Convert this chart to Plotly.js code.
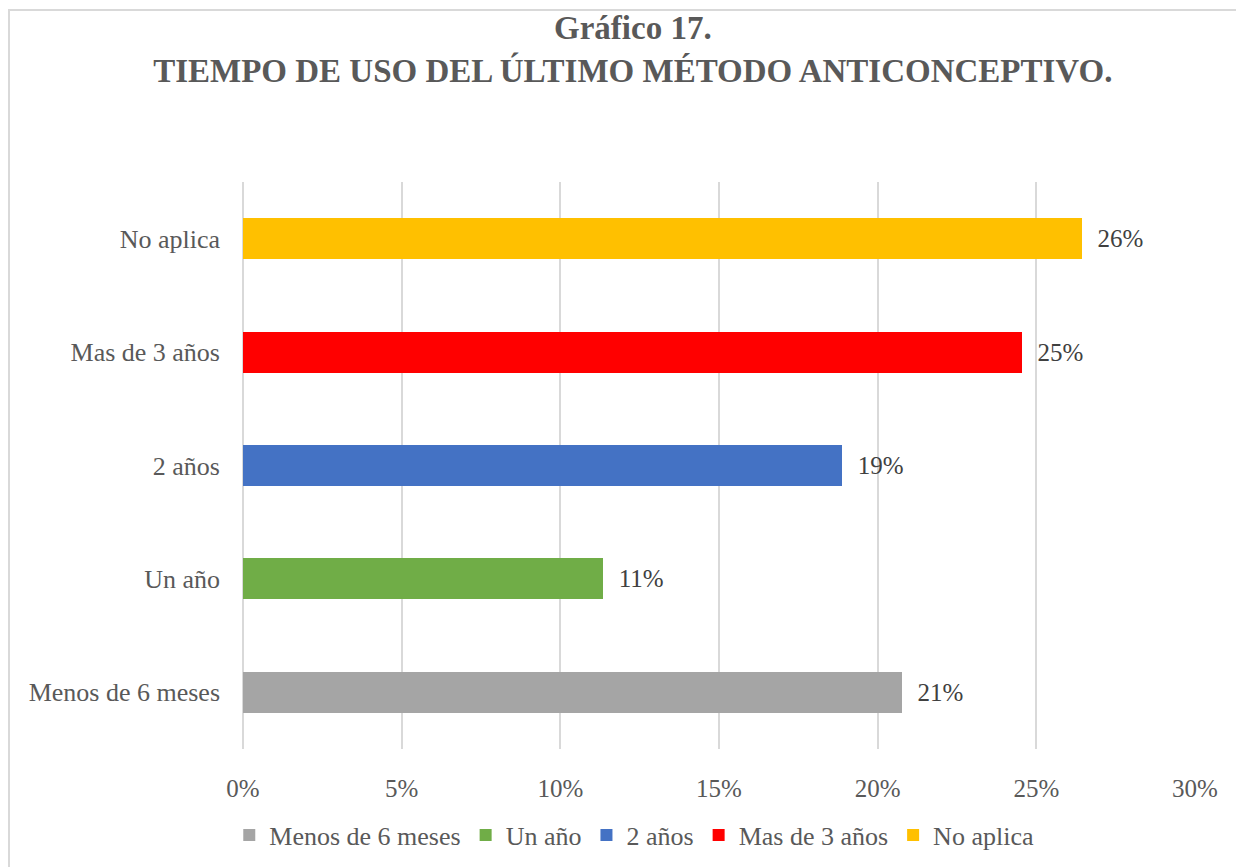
<!DOCTYPE html>
<html><head><meta charset="utf-8">
<script src="https://cdn.plot.ly/plotly-3.0.1.min.js"></script>
<style>
html,body{margin:0;padding:0;background:#fff;}
#frame{position:absolute;left:8px;top:9px;width:1240px;height:870px;border:2px solid #d9d9d9;box-sizing:border-box;}
#chart{position:absolute;left:0;top:0;width:1236px;height:867px;}
</style>
</head><body>
<div id="frame"></div>
<div id="chart"></div>
<script>
const categories = ["Menos de 6 meses", "Un año", "2 años", "Mas de 3 años", "No aplica"];
const values = [0.2077, 0.1135, 0.1888, 0.2455, 0.2644];
const labels = ["21%", "11%", "19%", "25%", "26%"];
const colors = ["#a5a5a5", "#70ad47", "#4472c4", "#ff0000", "#ffc000"];
const xTicks = [0, 0.05, 0.10, 0.15, 0.20, 0.25, 0.30];
const xTickText = ["0%", "5%", "10%", "15%", "20%", "25%", "30%"];

const font = "'Liberation Serif', 'Times New Roman', serif";
const traces = categories.map((c, i) => ({
  type: "bar", orientation: "h",
  y: [c], x: [values[i]], name: c,
  marker: {color: colors[i]},
  width: 0.36,
  text: ["\u00a0\u00a0" + labels[i]], textposition: "outside", cliponaxis: false,
  textfont: {family: font, size: 25, color: "#404040"},
  hoverinfo: "skip"
}));

const layout = {
  width: 1236, height: 867,
  paper_bgcolor: "rgba(0,0,0,0)", plot_bgcolor: "rgba(0,0,0,0)",
  margin: {l: 243, r: 41, t: 182, b: 118},
  barmode: "stack",
  font: {family: font, color: "#595959", size: 26},
  title: {
    text: "<b>Gráfico 17.</b><br><b>TIEMPO DE USO DEL ÚLTIMO MÉTODO ANTICONCEPTIVO.</b>",
    font: {family: font, size: 33, color: "#595959"},
    x: 0.512, xanchor: "center", y: 0.955, yanchor: "top"
  },
  xaxis: {
    range: [0, 0.30], tickvals: xTicks, ticktext: xTickText,
    showgrid: true, gridcolor: "#d9d9d9", gridwidth: 2,
    zeroline: true, zerolinecolor: "#d9d9d9", zerolinewidth: 2,
    showline: false, ticks: "", ticklabelstandoff: 22,
    tickfont: {family: font, size: 25, color: "#595959"},
    fixedrange: true
  },
  yaxis: {
    categoryorder: "array", categoryarray: categories,
    showgrid: false, zeroline: false, showline: false, ticks: "",
    ticklabelstandoff: 22,
    tickfont: {family: font, size: 26, color: "#595959"},
    fixedrange: true
  },
  showlegend: true,
  legend: {
    orientation: "h", x: 0.411, xanchor: "center", y: 835, yref: "container", yanchor: "middle",
    font: {family: font, size: 26, color: "#595959"},
    traceorder: "normal", itemwidth: 30
  }
};
layout.legend.y = 1 - 835 / 867;
Plotly.newPlot("chart", traces, layout, {displayModeBar: false, staticPlot: true});
</script>
</body></html>
